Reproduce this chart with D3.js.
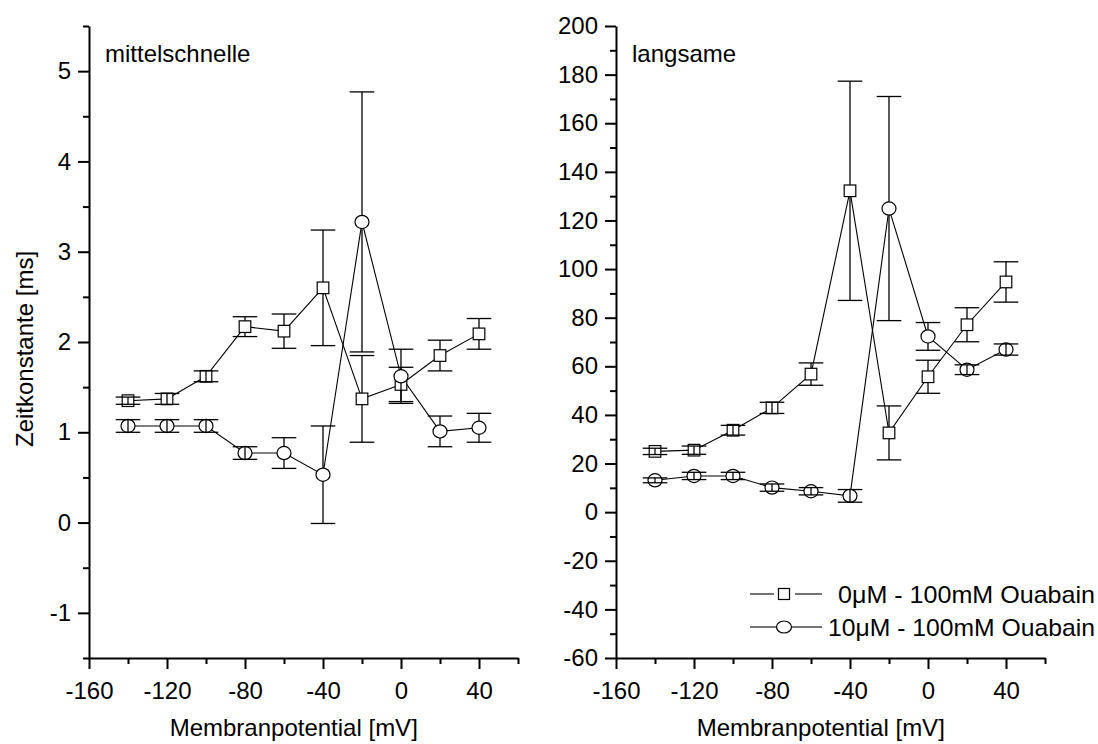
<!DOCTYPE html>
<html>
<head>
<meta charset="utf-8">
<script src="https://cdn.jsdelivr.net/npm/d3@7"></script>
<style>
  body { margin: 0; background: #fff; }
  text { font-family: "Liberation Sans", Arial, sans-serif; fill: #000; }
</style>
</head>
<body>
<svg id="chart" width="1098" height="744"></svg>
<script>
// ---------- data ----------
const potentials = [-140, -120, -100, -80, -60, -40, -20, 0, 20, 40];

// "mittelschnelle" (left panel), Zeitkonstante [ms]
const fastSquare    = [1.35, 1.37, 1.62, 2.17, 2.12, 2.60, 1.37, 1.53, 1.85, 2.09];
const fastSquareErr = [0.04, 0.06, 0.06, 0.11, 0.19, 0.64, 0.48, 0.19, 0.17, 0.17];
const fastCircle    = [1.07, 1.07, 1.07, 0.77, 0.77, 0.53, 3.33, 1.62, 1.01, 1.05];
const fastCircleErr = [0.07, 0.07, 0.07, 0.07, 0.17, 0.54, 1.44, 0.30, 0.17, 0.16];

// "langsame" (right panel)
const slowSquare    = [25.0, 25.5, 33.7, 42.9, 56.8, 132.2, 32.6, 55.7, 77.1, 94.7];
const slowSquareErr = [1.3, 1.7, 2.0, 2.3, 4.6, 45.1, 11.1, 6.8, 7.0, 8.3];
const slowCircle    = [13.1, 14.9, 14.9, 10.1, 8.6, 6.7, 124.9, 72.3, 58.6, 66.9];
const slowCircleErr = [1.0, 1.5, 1.5, 1.5, 1.5, 2.6, 46.1, 5.7, 2.0, 2.3];

const seriesLabels = ["0\u03BCM - 100mM Ouabain", "10\u03BCM - 100mM Ouabain"];
const panelTitles = ["mittelschnelle", "langsame"];
const xTitle = "Membranpotential [mV]";
const yTitle = "Zeitkonstante [ms]";

const xDomain = [-160, 60];
const xTicks = [-160, -120, -80, -40, 0, 40];
const xMinorTicks = [-140, -100, -60, -20, 20, 60];

const fastYDomain = [-1.5, 5.5];
const fastYTicks = [-1, 0, 1, 2, 3, 4, 5];
const fastYMinorTicks = [-1.5, -0.5, 0.5, 1.5, 2.5, 3.5, 4.5, 5.5];

const slowYDomain = [-60, 200];
const slowYTicks = [-60, -40, -20, 0, 20, 40, 60, 80, 100, 120, 140, 160, 180, 200];
const slowYMinorTicks = [-50, -30, -10, 10, 30, 50, 70, 90, 110, 130, 150, 170, 190];

// ---------- drawing ----------
const svg = d3.select("#chart");
svg.append("rect").attr("width", 1098).attr("height", 744).attr("fill", "#fff");

const FONT = 24;
const plotTop = 26, plotBottom = 658;
const fmt = d => String(d);

function drawPanel(cfg) {
  const x = d3.scaleLinear().domain(xDomain).range([cfg.left, cfg.right]);
  const y = d3.scaleLinear().domain(cfg.yDomain).range([plotBottom, plotTop]);
  const g = svg.append("g");

  // y axis
  const yAxis = d3.axisLeft(y).tickValues(cfg.yTicks).tickFormat(fmt).tickSize(11).tickSizeOuter(0).tickPadding(7);
  const ya = g.append("g").attr("transform", `translate(${cfg.left},0)`).call(yAxis);
  const yMinor = d3.axisLeft(y).tickValues(cfg.yMinor).tickSize(6).tickSizeOuter(0).tickFormat("");
  const ym = g.append("g").attr("transform", `translate(${cfg.left},0)`).call(yMinor);
  ym.select(".domain").remove();

  // x axis
  const xAxis = d3.axisBottom(x).tickValues(xTicks).tickFormat(fmt).tickSize(11).tickSizeOuter(0).tickPadding(13);
  const xa = g.append("g").attr("transform", `translate(0,${plotBottom})`).call(xAxis);
  const xMinor = d3.axisBottom(x).tickValues(xMinorTicks).tickSize(6).tickSizeOuter(0).tickFormat("");
  const xm = g.append("g").attr("transform", `translate(0,${plotBottom})`).call(xMinor);
  xm.select(".domain").remove();

  [ya, ym, xa, xm].forEach(a => {
    a.selectAll("path.domain").attr("stroke", "#000").attr("stroke-width", 2);
    a.selectAll(".tick line").attr("stroke", "#000").attr("stroke-width", 2);
    a.selectAll(".tick text").attr("font-size", FONT).attr("font-family", '"Liberation Sans", Arial, sans-serif').attr("fill", "#000");
  });

  // panel title
  g.append("text").attr("x", cfg.left + 16).attr("y", 62).attr("font-size", FONT).text(cfg.title);

  // x title
  g.append("text").attr("x", x(-55)).attr("y", 736).attr("text-anchor", "middle")
    .attr("font-size", FONT).text(xTitle);

  const series = [
    { vals: cfg.sq, err: cfg.sqErr, shape: "square" },
    { vals: cfg.ci, err: cfg.ciErr, shape: "circle" }
  ];
  const line = d3.line().x((d, i) => x(potentials[i])).y(d => y(d));

  series.forEach(s => {
    g.append("path").attr("d", line(s.vals)).attr("fill", "none")
      .attr("stroke", "#000").attr("stroke-width", 1.1);
  });

  series.forEach(s => {
    const half = s.shape === "square" ? 5.8 : 6.7;
    s.vals.forEach((v, i) => {
      const cx = x(potentials[i]), cy = y(v);
      if (s.shape === "square") {
        g.append("rect").attr("x", cx - 5.8).attr("y", cy - 5.8).attr("width", 11.6).attr("height", 11.6)
          .attr("fill", "#fff").attr("stroke", "#000").attr("stroke-width", 1.2);
      } else {
        g.append("ellipse").attr("cx", cx).attr("cy", cy).attr("rx", 7).attr("ry", 6.6)
          .attr("fill", "#fff").attr("stroke", "#000").attr("stroke-width", 1.2);
      }
    });
    // error bars
    s.vals.forEach((v, i) => {
      const cx = x(potentials[i]), cy = y(v);
      const yt = y(v + s.err[i]), yb = y(v - s.err[i]);
      const eb = g.append("g").attr("stroke", "#000").attr("stroke-width", 1.3);
      const st = (cy - yt > half) ? cy - half : cy;
      const sb = (yb - cy > half) ? cy + half : cy;
      eb.append("line").attr("x1", cx).attr("x2", cx).attr("y1", st).attr("y2", yt);
      eb.append("line").attr("x1", cx).attr("x2", cx).attr("y1", sb).attr("y2", yb);
      eb.append("line").attr("x1", cx - 12.3).attr("x2", cx + 12.3).attr("y1", yt).attr("y2", yt);
      eb.append("line").attr("x1", cx - 12.3).attr("x2", cx + 12.3).attr("y1", yb).attr("y2", yb);
    });
  });
  return { x, y, g };
}

drawPanel({
  left: 89, right: 518, yDomain: fastYDomain, yTicks: fastYTicks, yMinor: fastYMinorTicks,
  title: panelTitles[0], sq: fastSquare, sqErr: fastSquareErr, ci: fastCircle, ciErr: fastCircleErr
});
drawPanel({
  left: 616, right: 1045, yDomain: slowYDomain, yTicks: slowYTicks, yMinor: slowYMinorTicks,
  title: panelTitles[1], sq: slowSquare, sqErr: slowSquareErr, ci: slowCircle, ciErr: slowCircleErr
});

// y title
svg.append("text").attr("transform", "translate(33,349) rotate(-90)").attr("text-anchor", "middle")
  .attr("font-size", FONT).text(yTitle);

// legend
const legend = svg.append("g");
const legendRows = [594, 627];
const legendTextStart = [838, 828];
seriesLabels.forEach((lab, i) => {
  const yy = legendRows[i];
  const segs = i === 0 ? [[750, 774], [795, 822]] : [[750, 776], [792, 822]];
  segs.forEach(sg => legend.append("line").attr("x1", sg[0]).attr("x2", sg[1]).attr("y1", yy).attr("y2", yy)
    .attr("stroke", "#000").attr("stroke-width", 1.1));
  if (i === 0) {
    legend.append("rect").attr("x", 778.5).attr("y", yy - 5.5).attr("width", 11).attr("height", 11)
      .attr("fill", "#fff").attr("stroke", "#000").attr("stroke-width", 1.2);
  } else {
    legend.append("ellipse").attr("cx", 784).attr("cy", yy).attr("rx", 7.5).attr("ry", 6)
      .attr("fill", "#fff").attr("stroke", "#000").attr("stroke-width", 1.2);
  }
  legend.append("text").attr("x", legendTextStart[i]).attr("y", yy + 8.5)
    .attr("textLength", 1095 - legendTextStart[i]).attr("lengthAdjust", "spacingAndGlyphs")
    .attr("font-size", FONT).text(lab);
});
</script>
</body>
</html>
